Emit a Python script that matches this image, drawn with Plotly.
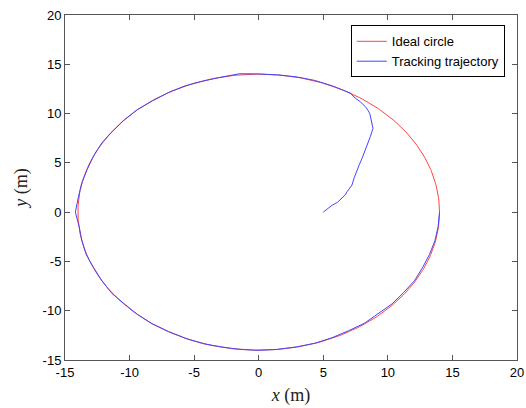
import numpy as np
import plotly.graph_objects as go

# Ideal circle parameters
circle_radius = 14.0
circle_center = (0.0, 0.0)

# Tracking trajectory: approach segment (x, y in metres)
approach_x = [5.0, 5.3, 5.67, 6.1, 6.45, 6.7, 6.84, 7.05, 7.22, 7.4, 7.6, 7.8, 8.0, 8.2, 8.43, 8.64,
              8.85, 8.8, 8.77, 8.7, 8.6, 8.45, 8.26, 8.05, 7.87, 7.6, 7.35, 7.2, 7.1]
approach_y = [0.0, 0.35, 0.69, 1.0, 1.4, 1.75, 2.07, 2.4, 2.75, 3.5, 4.27, 4.85, 5.45, 6.1, 6.8, 7.65,
              8.5, 8.85, 9.17, 9.6, 10.0, 10.35, 10.7, 10.95, 11.2, 11.45, 11.7, 11.9, 12.1]

# Tracking trajectory: following segment, angle (deg) and radius (m)
follow_angle = list(range(60, 361, 6))
follow_radius = [14.0, 14.02, 14.05, 14.03, 14.0, 14.02, 14.12, 14.0, 13.98, 14.02,
                 14.0, 13.97, 14.02, 14.0, 13.98, 14.03, 14.0, 13.97, 14.02, 14.05,
                 14.2, 13.98, 14.0, 14.03, 13.97, 14.0, 14.04, 13.96, 14.0, 14.02,
                 13.98, 14.0, 14.02, 13.98, 14.0, 14.02, 14.0, 13.98, 14.0, 13.95,
                 13.9, 13.93, 13.85, 13.9, 13.87, 13.92, 13.88, 13.9, 13.95, 13.97, 14.0]

x_ticks = [-15, -10, -5, 0, 5, 10, 15, 20]
y_ticks = [-15, -10, -5, 0, 5, 10, 15, 20]

t = np.linspace(0, 2 * np.pi, 361)
cx = circle_center[0] + circle_radius * np.cos(t)
cy = circle_center[1] + circle_radius * np.sin(t)

th = np.deg2rad(np.array(follow_angle, dtype=float))
fr = np.array(follow_radius)
tx = list(approach_x) + list(fr * np.cos(th))
ty = list(approach_y) + list(fr * np.sin(th))

fig = go.Figure()
fig.add_trace(go.Scatter(x=cx, y=cy, mode="lines", name="Ideal circle",
                         line=dict(color="#ff4444", width=1)))
fig.add_trace(go.Scatter(x=tx, y=ty, mode="lines", name="Tracking trajectory",
                         line=dict(color="#4444ff", width=1)))

axis_common = dict(
    showgrid=False, zeroline=False, showline=True, linecolor="#555555", linewidth=1,
    mirror="ticks", ticks="inside", ticklen=5, tickcolor="#555555", automargin=False,
    tickfont=dict(family="Liberation Sans, Arial", size=13, color="#000000"),
)

fig.update_layout(
    width=526, height=408,
    margin=dict(l=65, r=9, t=15, b=48),
    paper_bgcolor="white", plot_bgcolor="white",
    showlegend=True,
    legend=dict(x=0.973, y=0.97, xanchor="right", yanchor="top",
                bgcolor="white", bordercolor="#000000", borderwidth=1,
                font=dict(family="Liberation Sans, Arial", size=13, color="#000000"),
                tracegroupgap=0),
    xaxis=dict(range=[-15, 20], tickvals=x_ticks, ticktext=[str(v) for v in x_ticks],
               title=dict(text="<i>x</i> (m)", standoff=9,
                          font=dict(family="Liberation Serif, Times New Roman", size=18, color="#222222")),
               **axis_common),
    yaxis=dict(range=[-15, 20], tickvals=y_ticks, ticktext=[str(v) for v in y_ticks],
               title=dict(text="<i>y</i> (m)", standoff=10,
                          font=dict(family="Liberation Serif, Times New Roman", size=18, color="#222222")),
               **axis_common),
)

fig.write_html("out.html")
